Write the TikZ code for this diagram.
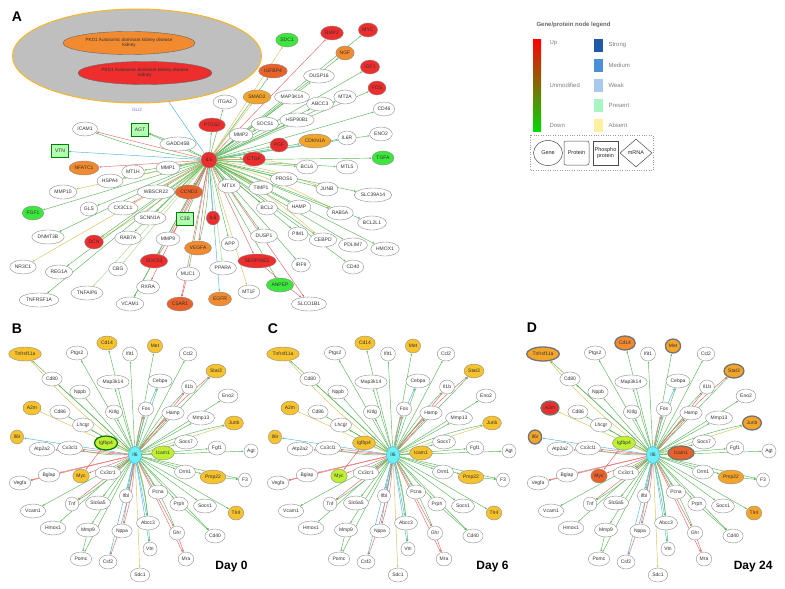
\documentclass[tikz,border=0pt]{standalone}
\usepackage{fontspec}
\setmainfont{Liberation Sans}
\usetikzlibrary{shapes.geometric,arrows.meta}

\definecolor{ured}{HTML}{EE2D2D}
\definecolor{uorg}{HTML}{F28A30}
\definecolor{uorb}{HTML}{E8622A}
\definecolor{uyel}{HTML}{F2A52A}
\definecolor{dgrn}{HTML}{3DE63D}
\definecolor{gold}{HTML}{F6C22E}
\definecolor{lime}{HTML}{C0F032}
\definecolor{hubcy}{HTML}{6CF0F8}
\definecolor{egc}{HTML}{5CB85C}
\definecolor{elc}{HTML}{A9D98A}
\definecolor{eyc}{HTML}{D6C25A}
\definecolor{erc}{HTML}{E46A6A}
\definecolor{ecc}{HTML}{4AB4E0}
\definecolor{lstrong}{HTML}{1F5AA6}
\definecolor{lmedium}{HTML}{4A8FD8}
\definecolor{lweak}{HTML}{A8C8EE}
\definecolor{lpresent}{HTML}{A8F5C3}
\definecolor{labsent}{HTML}{FFF0A0}

\pgfdeclarelayer{bg}
\pgfdeclarelayer{edges}
\pgfsetlayers{bg,edges,main}

% node list of the day panels: name/dx/dy/label/style
\def\daynodes{tnf/-110/-101/Tnfrsf11a/tnfk, cd14/-28/-112/Cd14/cdk,
 ptgs2/-58/-102/Ptgs2/gene, ifit1/-5/-101/Ifit1/gene, met/20/-109/Met/metk,
 ccl2/53/-101/Ccl2/gene, cd80/-83/-76/Cd80/gene, map3k14/-22/-73/Map3k14/gene,
 cebpa/25/-74/Cebpa/gene, il1b/54/-68/Il1b/gene, stat3/81/-84/Stat3/statk,
 nppb/-55/-63/Nppb/gene, eno2/93/-59/Eno2/gene, a2m/-103/-47/A2m/a2mk,
 cd86/-75/-43/Cd86/gene, kitlg/-21/-43/Kitlg/gene, fos/11/-46/Fos/gene,
 hamp/38/-42/Hamp/gene, mmp13/66/-37/Mmp13/gene, junb/99/-32/Junb/junk,
 lhcgr/-52/-30/Lhcgr/gene, il6r/-118/-18/Il6r/il6rk, igfbp4/-29/-12/Igfbp4/igfk,
 atp2a2/-93/-6/Atp2a2/gene, cx3cl1/-65/-7/Cx3cl1/gene, socs7/51/-13/Socs7/gene,
 icam1/28/-2/Icam1/icamk, fgf1/82/-7/Fgf1/gene, agt/116/-4/Agt/gene,
 bglap/-86/20/Bglap/gene, myc/-54/21/Myc/myck, cx3cr1/-27/18/Cx3cr1/gene,
 orm1/50/17/Orm1/gene, pmp22/78/22/Pmp22/pmpk, f3/110/25/F3/gene,
 vegfa/-115/28/Vegfa/gene, ifbl/-9/41/Ifbl/gene, pcna/23/37/Pcna/gene,
 tnfa/-63/49/Tnf/gene, slc6a5/-37/48/Slc6a5/gene, prph/44/49/Prph/gene,
 socs1/70/51/Socs1/gene, tlr4/101/58/Tlr4/tlrk, vcam1/-102/56/Vcam1/gene,
 abcc3/13/68/Abcc3/gene, hmox1/-82/73/Hmox1/gene, mmp9/-47/75/Mmp9/gene,
 nppa/-13/76/Nppa/gene, ghr/42/78/Ghr/gene, cd40/80/81/Cd40/gene,
 vtn/15/94/Vtn/gene, pomc/-54/104/Pomc/gene, csf2/-27/107/Csf2/gene,
 mra/51/104/Mra/gene, sdc1/5/120/Sdc1/gene}

% edges of the day panels: name/colour/second colour
\def\dayedges{tnf/eg/ey, cd14/eg/eno, ptgs2/eg/eno, ifit1/eg/eno, met/eg/eno,
 ccl2/eg/eno, cd80/eg/eno, map3k14/eg/eno, cebpa/eg/ec, il1b/er/eg, stat3/eg/er,
 nppb/eg/eno, eno2/eg/eno, a2m/ey/eno, cd86/eg/eno, kitlg/eg/eno, fos/eg/er,
 hamp/er/eg, mmp13/eg/eno, junb/ey/eg, lhcgr/eg/eno, il6r/ec/eno, igfbp4/el/eno,
 atp2a2/er/eno, cx3cl1/er/eg, socs7/eg/eno, icam1/ey/eno, fgf1/eg/eno,
 agt/eg/eno, bglap/er/eno, myc/er/eno, cx3cr1/eg/er, orm1/eg/eno, pmp22/eg/eno,
 f3/eg/eno, vegfa/er/eno, ifbl/eg/ec, pcna/eg/eno, tnfa/er/eg, slc6a5/eg/eno,
 prph/eg/eno, socs1/eg/eno, tlr4/eg/eno, vcam1/eg/eno, abcc3/ec/eg,
 hmox1/eg/eno, mmp9/eg/eno, nppa/ec/er, ghr/er/eg, cd40/eg/eno, vtn/ec/eg,
 pomc/eg/eno, csf2/ec/er, mra/er/eno, sdc1/ey/eno}

\newcommand\daypanel[1]{%
  \node[hubc] (#1-hub) at (0,0) {Il6};
  \foreach \n/\x/\y/\t/\s in \daynodes {\node[\s] (#1-\n) at (\x,\y) {\t};}
  \begin{pgfonlayer}{edges}
  \foreach \n/\c/\d in \dayedges {
    \draw[\c,->] (#1-hub) -- (#1-\n);
    \draw[\d,->] (#1-hub) to[bend left=6] (#1-\n);}
  \draw[er,->] (#1-igfbp4) -- (#1-myc);
  \draw[er,->] (#1-bglap) -- (#1-vegfa);
  \draw[eg,->] (#1-pmp22) -- (#1-f3);
  \draw[eg,->] (#1-prph) -- (#1-cd40);
  \draw[er,->] (#1-ghr) -- (#1-mra);
  \draw[eg,->] (#1-mmp9) -- (#1-pomc);
  \end{pgfonlayer}}

\begin{document}
\begin{tikzpicture}[
    x=1pt, y=-1pt,
    >={Latex[length=2.2pt,width=1.8pt]},
    every node/.style={font=\fontsize{5}{5.5}\selectfont, text=black!80},
    gene/.style={ellipse, draw=black!45, fill=white, line width=0.4pt, inner xsep=1.2pt, inner ysep=0.4pt, minimum width=13, minimum height=14},
    prs/.style={rectangle, draw=green!50!black, fill=green!30, line width=0.4pt, minimum width=17, minimum height=13},
    ured/.style={gene, fill=ured},
    uorg/.style={gene, fill=uorg},
    uorb/.style={gene, fill=uorb},
    uyel/.style={gene, fill=uyel},
    dgrn/.style={gene, fill=dgrn},
    hubc/.style={ellipse, draw=ecc, fill=hubcy, line width=0.6pt, inner sep=0.5pt, minimum width=13, minimum height=17},
    ring/.style={draw=black!55, line width=1.3pt},
    eg/.style={draw=egc, line width=0.45pt},
    el/.style={draw=elc, line width=0.45pt},
    ey/.style={draw=eyc, line width=0.45pt},
    er/.style={draw=erc, line width=0.45pt},
    ec/.style={draw=ecc, line width=0.45pt},
    eno/.style={draw=none},
    panel/.style={font=\bfseries\fontsize{14}{14}\selectfont, text=black},
    daylab/.style={font=\bfseries\fontsize{12}{12}\selectfont, text=black, anchor=east},
    legtext/.style={font=\fontsize{6}{7}\selectfont, text=black!50, anchor=west},
    legbox/.style={draw=black!70, fill=white, line width=0.5pt, font=\fontsize{5.5}{6}\selectfont, text=black!85, align=center, inner sep=0.5pt}
  ]
  \useasboundingbox (0,0) rectangle (785,589);
  \begin{pgfonlayer}{bg}
  \fill[white] (0,0) rectangle (785,589);
  \end{pgfonlayer}

  % Panel labels
  \node[panel] (labA) at (17,17) {A};
  \node[panel] (labB) at (17,329) {B};
  \node[panel] (labC) at (273,329) {C};
  \node[panel] (labD) at (532,328) {D};

  % -------- Panel A: disease ellipse --------
  \node[ellipse, draw=uyel!80!yellow, fill=black!25, line width=1pt, minimum width=249, minimum height=94] (pkd) at (137,56) {};
  \node[ellipse, draw=black!60, fill=uorg, line width=0.4pt, minimum width=132, minimum height=23, align=center, font=\fontsize{4.6}{5.2}\selectfont] (pkdo) at (129,43) {PKD1 Autosomic dominant kidney disease\\kidney};
  \node[ellipse, draw=black!60, fill=ured, line width=0.4pt, minimum width=134, minimum height=23, align=center, font=\fontsize{4.6}{5.2}\selectfont] (pkdr) at (145,73) {PKD1 Autosomic dominant kidney disease\\kidney};
  \node[text=blue!55, font=\fontsize{4.6}{5}\selectfont] (gli2) at (137,110) {GLI2};

  % -------- Panel A: hub and genes --------
  \node[circle, draw=black!45, fill=ured, inner sep=0.3pt, minimum size=16] (il6) at (209,160) {IL6};
  \foreach \n/\x/\y/\t/\s in {icam1/85/129/ICAM1/gene, agt/140/130/AGT/prs,
    vtn/60/151/VTN/prs, gadd/178/144/GADD45B/gene, ptgs2/212/125/PTGS2/ured,
    mmp2/241/135/MMP2/gene, socs1/265/124/SOCS1/gene, hsp/297/120/HSP90B1/gene,
    nfatc1/84/168/NFATC1/uorg, mt1h/133/172/MT1H/gene, mmp1/168/168/MMP1/gene,
    hspa4/110/181/HSPA4/gene, mmp10/63/192/MMP10/gene, wbscr/156/192/WBSCR22/gene,
    ccnd1/189/192/CCND1/uorb, mt1x/229/186/MT1X/gene, fgf1/33/213/FGF1/dgrn,
    gls/89/209/GLS/gene, cx3cl1/123/208/CX3CL1/gene, scnn1a/150/218/SCNN1A/gene,
    c3b/185/219/C3B/prs, il8/213/218/IL8/ured, dnmt/48/237/DNMT3B/gene,
    dcn/94/242/DCN/ured, rab7a/128/238/RAB7A/gene, mmp9/168/239/MMP9/gene,
    vegfa/198/248/VEGFA/uorg, app/230/244/APP/gene, nr3c1/23/267/NR3C1/gene,
    reg1a/59/272/REG1A/gene, cbg/118/269/CBG/gene, socs3/154/261/SOCS3/ured,
    muc1/188/274/MUC1/gene, ppara/223/268/PPARA/gene, rxra/148/287/RXRA/gene,
    tnfaip6/87/293/TNFAIP6/gene, tnfrsf1a/39/300/TNFRSF1A/gene, vcam1/130/304/VCAM1/gene,
    c5ar1/180/304/C5AR1/uorb, egfr/220/299/EGFR/uorg, mt1f/249/292/MT1F/gene,
    anpep/280/285/ANPEP/dgrn, serpine1/257/261/SERPINE1/ured, slco1b1/309/304/SLCO1B1/gene,
    dusp1/264/236/DUSP1/gene, pim1/298/234/PIM1/gene, irf9/301/265/IRF9/gene,
    cebpd/323/240/CEBPD/gene, pdlim7/353/245/PDLIM7/gene, cd40/353/267/CD40/gene,
    hmox1/385/249/HMOX1/gene, pgf/279/145/PGF/ured, cdkn1a/315/141/CDKN1A/uyel,
    il6r/347/138/IL6R/gene, eno2/381/134/ENO2/gene, tgfa/383/158/TGFA/dgrn,
    ctgf/254/159/CTGF/ured, bcl6/307/167/BCL6/gene, mtl5/347/167/MTL5/gene,
    pros1/284/179/PROS1/gene, junb/327/189/JUNB/gene, slc39a14/373/195/SLC39A14/gene,
    timp1/261/188/TIMP1/gene, bcl2/267/208/BCL2/gene, hamp/299/207/HAMP/gene,
    rab5a/340/213/RAB5A/gene, bcl2l1/372/223/BCL2L1/gene, sdc1/287/40/SDC1/dgrn,
    bmp2/332/33/BMP2/ured, myc/368/30/MYC/ured, ngf/345/53/NGF/uorg,
    igf1/370/67/IGF1/ured, igfbp4/273/71/IGFBP4/uorb, dusp16/319/76/DUSP16/gene,
    fos/377/88/FOS/ured, itga2/225/102/ITGA2/gene, smad2/257/97/SMAD2/uyel,
    map3k14/292/97/MAP3K14/gene, abcc3/320/104/ABCC3/gene, mt2a/345/97/MT2A/gene,
    cd46/384/109/CD46/gene}
    {\node[\s] (\n) at (\x,\y) {\t};}

  % ---- Panel A connections ----
  \begin{pgfonlayer}{edges}
  \foreach \n/\c/\d in {icam1/er/eg, agt/eg/eno, vtn/ec/eno, gadd/eg/eno,
    ptgs2/eg/eno, mmp2/eg/eno, socs1/eg/el, hsp/eg/eno, nfatc1/er/eno,
    mt1h/eg/eno, mmp1/eg/eno, hspa4/eg/eno, mmp10/ey/eno, wbscr/eg/eno,
    ccnd1/er/eg, mt1x/eg/eno, fgf1/eg/eno, gls/eg/eno, cx3cl1/er/eno,
    scnn1a/eg/eno, c3b/eg/eno, il8/ec/eno, dnmt/eg/eno, dcn/eg/ey,
    rab7a/eg/eno, mmp9/er/eno, vegfa/er/eg, app/eg/eno, nr3c1/ey/eno,
    reg1a/eg/eno, cbg/el/eno, socs3/eg/er, muc1/eg/eno, ppara/el/eno,
    rxra/er/eno, tnfaip6/el/eno, tnfrsf1a/eg/eno, vcam1/eg/eno, c5ar1/er/eno,
    egfr/ec/eno, mt1f/ey/eno, anpep/eg/eno, serpine1/er/eno, slco1b1/er/eno,
    dusp1/eg/eno, pim1/eg/eno, irf9/eg/eno, cebpd/eg/ey, pdlim7/eg/eno,
    cd40/eg/eno, hmox1/eg/eno, pgf/eg/eno, cdkn1a/eg/eno, il6r/ec/eno,
    eno2/eg/eno, tgfa/eg/eno, ctgf/er/eg, bcl6/eg/ey, mtl5/eg/eno,
    pros1/eg/eno, junb/eg/ey, slc39a14/eg/eno, timp1/eg/ey, bcl2/eg/eno,
    hamp/eg/eno, rab5a/eg/ey, bcl2l1/eg/eno, sdc1/ey/eno, bmp2/er/eno,
    myc/eg/eno, ngf/eg/eno, igf1/eg/eno, igfbp4/eg/eno, dusp16/eg/eno,
    fos/eg/eno, itga2/eg/eno, smad2/ey/eno, map3k14/eg/eno, abcc3/eg/eno,
    mt2a/eg/eno, cd46/eg/eno}
    {\draw[\c,->] (il6) -- (\n);
     \draw[\d,->] (il6) to[bend left=6] (\n);}
  \draw[ec] (pkd) -- (il6);
  \draw[eg,->] (gadd) -- (agt);
  \draw[er,->] (serpine1) -- (slco1b1);
  \draw[eg,->] (socs3) -- (vcam1);
  \draw[er,->] (muc1) -- (c5ar1);
  \end{pgfonlayer}

  % -------- Legend --------
  \node[anchor=west, font=\bfseries\fontsize{6}{7}\selectfont, text=black!60] (legtitle) at (533,25) {Gene/protein node legend};
  \shade[top color=red, middle color=yellow, bottom color=green!85!black] (533,39) rectangle (541,131);
  \node[legtext] (lup) at (546,43) {Up};
  \node[legtext] (lunm) at (546,85) {Unmodified};
  \node[legtext] (ldown) at (546,125) {Down};
  \foreach \n/\y/\c/\t in {strong/45/lstrong/Strong, medium/65/lmedium/Medium,
    weak/85/lweak/Weak, present/105/lpresent/Present, absent/125/labsent/Absent}
    {\node[rectangle, fill=\c, minimum width=9, minimum height=13, inner sep=0pt] (\n) at (598.5,\y) {};
     \node[legtext] (\n-t) at (605,\y) {\t};}
  \draw[dotted, black!40] (530,135) rectangle (653,170);
  \node[legbox, ellipse, minimum width=29, minimum height=25] (lgene) at (548,153) {Gene};
  \node[legbox, rectangle, rounded corners=2pt, minimum width=25, minimum height=24] (lprot) at (576.5,153) {Protein};
  \node[legbox, rectangle, line width=1pt, minimum width=25, minimum height=24] (lphos) at (605.5,153) {Phospho\\protein};
  \node[legbox, diamond, minimum width=32, minimum height=28, inner sep=0pt] (lmrna) at (636,153) {mRNA};

  % -------- Panel B (day 0) --------
  \begin{scope}[shift={(135,455)},
      tnfk/.style={gene, fill=gold}, cdk/.style={gene, fill=gold},
      metk/.style={gene, fill=gold}, statk/.style={gene, fill=gold},
      a2mk/.style={gene, fill=gold}, junk/.style={gene, fill=gold},
      il6rk/.style={gene, fill=gold}, myck/.style={gene, fill=gold},
      pmpk/.style={gene, fill=gold}, tlrk/.style={gene, fill=gold},
      igfk/.style={gene, fill=lime, draw=green!45!black, line width=1.2pt},
      icamk/.style={gene, fill=lime}]
    \daypanel{b}
  \end{scope}

  % -------- Panel C (day 6) --------
  \begin{scope}[shift={(393,455)},
      tnfk/.style={gene, fill=gold}, cdk/.style={gene, fill=gold},
      metk/.style={gene, fill=gold}, statk/.style={gene, fill=gold},
      a2mk/.style={gene, fill=gold}, junk/.style={gene, fill=gold},
      il6rk/.style={gene, fill=gold}, myck/.style={gene, fill=lime},
      pmpk/.style={gene, fill=gold}, tlrk/.style={gene, fill=gold},
      igfk/.style={gene, fill=gold}, icamk/.style={gene, fill=gold}]
    \daypanel{c}
  \end{scope}

  % -------- Panel D (day 24) --------
  \begin{scope}[shift={(653,455)},
      tnfk/.style={gene, fill=uyel, ring}, cdk/.style={gene, fill=uorg, ring},
      metk/.style={gene, fill=uyel, ring}, statk/.style={gene, fill=uyel, ring},
      a2mk/.style={gene, fill=ured, ring}, junk/.style={gene, fill=uyel, ring},
      il6rk/.style={gene, fill=uyel, ring}, myck/.style={gene, fill=uorb},
      pmpk/.style={gene, fill=uyel}, tlrk/.style={gene, fill=uyel},
      igfk/.style={gene, fill=lime}, icamk/.style={gene, fill=uorb, ring, minimum width=26}]
    \daypanel{d}
  \end{scope}

  % Day labels
  \node[daylab] (day0) at (251,567) {Day 0};
  \node[daylab] (day6) at (512,567) {Day 6};
  \node[daylab] (day24) at (776,567) {Day 24};

\end{tikzpicture}
\end{document}
